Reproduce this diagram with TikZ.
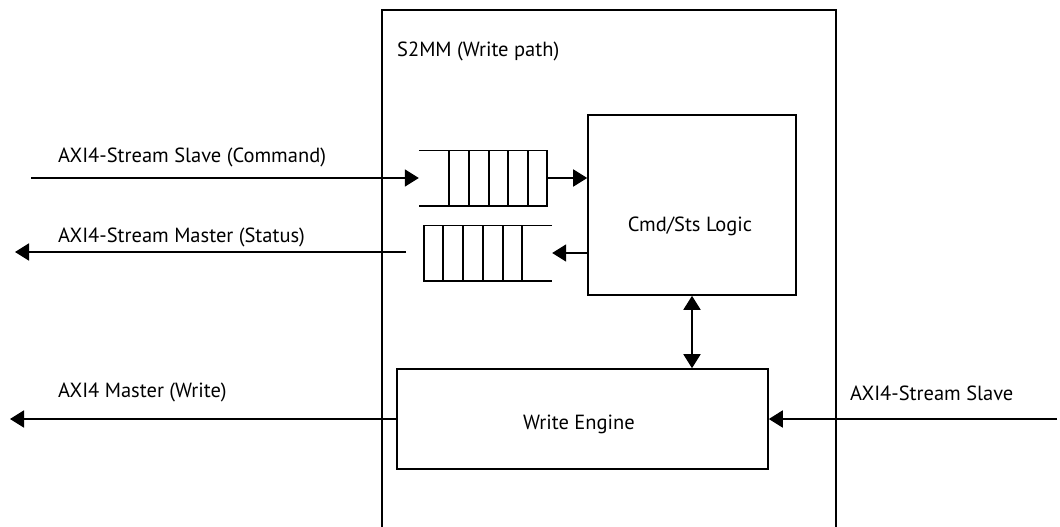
\documentclass[tikz,border=0pt]{standalone}
\usepackage{fontspec}
\setmainfont{PT Sans}
\usetikzlibrary{arrows.meta}
\tikzset{
  wire/.style={line width=1.8pt, -{Triangle[length=14pt,width=17pt]}},
  blk/.style={draw, line width=1.6pt, inner sep=0pt},
  txt/.style={font=\fontsize{20.5}{24}\selectfont, inner sep=0pt},
  lbl/.style={txt, anchor=west},
  fifo/.style={inner sep=0pt, minimum height=55pt},
  cell/.style={line width=1.6pt}
}
\begin{document}
\begin{tikzpicture}[x=1pt,y=-1pt]
\useasboundingbox (0,0) rectangle (1060,527);
\fill[white] (0,0) rectangle (1060,527);

% S2MM enclosure (runs off the bottom edge)
\draw[line width=1.8pt] (382,527) |- (836,10) -- (836,527);
\node[lbl] (title) at (397,51) {S2MM (Write path)};

% main blocks
\node[blk, minimum width=208pt, minimum height=180pt] (cmd) at (692,205) {};
\node[txt] (cmdtxt) at (690,226) {Cmd/Sts Logic};
\node[blk, minimum width=371pt, minimum height=100pt] (we) at (582.5,419) {};
\node[txt] (wetxt) at (579,424) {Write Engine};

% command FIFO (open on the left)
\node[fifo, minimum width=128pt] (cq) at (483,178) {};
\draw[cell] (cq.north west) -- (cq.north east) -- (cq.south east) -- (cq.south west);
\foreach \x in {449,469,489,508,528}
  \draw[cell] (\x,150) -- (\x,205);

% status FIFO (open on the right)
\node[fifo, minimum width=128pt] (sq) at (488,253) {};
\draw[cell] (sq.north east) -- (sq.north west) -- (sq.south west) -- (sq.south east);
\foreach \x in {443,463,483,503,522}
  \draw[cell] (\x,226) -- (\x,280);

% external ends
\coordinate (cmdin) at (31,178);
\coordinate (stsout) at (15,252);
\coordinate (stsfrom) at (406,252);
\coordinate (mmout) at (10,419);
\coordinate (ssin) at (1057,419);

% connectors
\draw[wire] (cmdin) -- (cq.west);
\draw[wire] (cq.east) -- (cmd.west |- cq.east);
\draw[wire] (cmd.west |- sq.east) -- (sq.east);
\draw[wire] (stsfrom) -- (stsout);
\draw[line width=1.8pt, {Triangle[length=14pt,width=17pt]}-{Triangle[length=14pt,width=17pt]}] (cmd.south) -- (cmd.south |- we.north);
\draw[wire] (we.west) -- (mmout);
\draw[wire] (ssin) -- (we.east);

% interface labels
\node[lbl] (l1) at (58,157) {AXI4-Stream Slave (Command)};
\node[lbl] (l2) at (58,237) {AXI4-Stream Master (Status)};
\node[lbl] (l3) at (58,392) {AXI4 Master (Write)};
\node[lbl] (l4) at (850,393) {AXI4-Stream Slave};
\end{tikzpicture}
\end{document}
